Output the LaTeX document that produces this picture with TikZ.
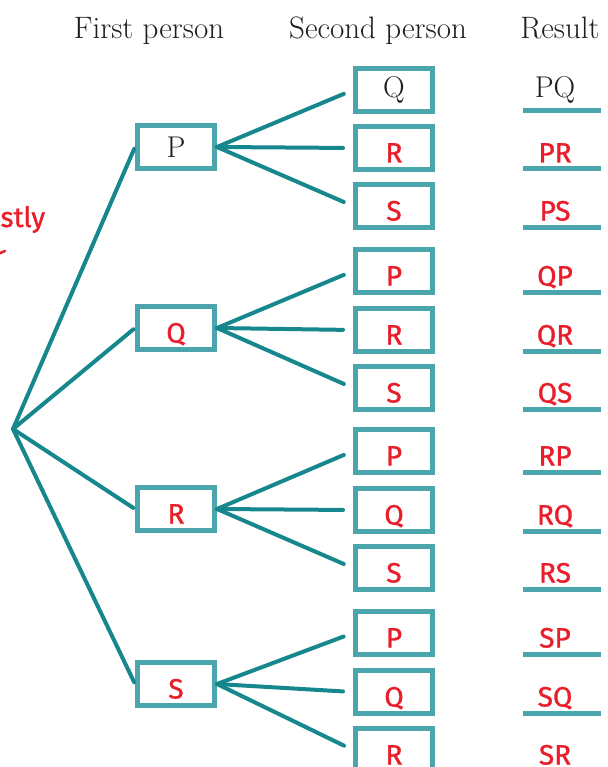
\documentclass[tikz,border=0pt]{standalone}
\usepackage{fontspec}
\newfontfamily\handfont[FakeBold=1.2]{Fira Sans}
\definecolor{frameteal}{HTML}{4AA5AD}
\definecolor{branchteal}{HTML}{15878D}
\definecolor{penred}{HTML}{E81E2A}
\definecolor{printgray}{HTML}{1E1E1E}

\begin{document}
\begin{tikzpicture}[x=1pt,y=-1pt]
  \tikzstyle{choice}=[draw=frameteal,line width=5pt,minimum width=77pt,minimum height=43pt,inner sep=0pt]
  \tikzstyle{branch}=[draw=branchteal,line width=4pt,line cap=round]
  \tikzstyle{print}=[text=printgray,font=\fontsize{30}{30}\selectfont]
  \tikzstyle{head}=[text=printgray,font=\fontsize{31}{31}\selectfont,anchor=base]
  \tikzstyle{hand}=[text=penred,font=\handfont\fontsize{28}{28}\selectfont,text height=29pt,text depth=0pt]
  \tikzstyle{rule}=[draw=frameteal,line width=5pt]

  \clip (0,0) rectangle (607,767);

  \node[head] (head-first) at (149,39) {First person};
  \node[head] (head-second) at (378,39) {Second person};
  \node[head] (head-result) at (560,39) {Result};

  \node[hand,anchor=base west] (note) at (-3,227) {stly};
  \draw[penred,line width=2.5pt,line cap=round] (-2,254) -- (5,251);

  \coordinate (root) at (13,429);
  \foreach \name/\y/\ink in {P/147/print, Q/328/hand, R/509/hand, S/684/hand} {
    \node[choice,\ink] (F-\name) at (176,\y) {\name};
    \draw[branch,shorten >=2pt] (root) -- (F-\name.west);
  }

  \foreach \first/\second/\y/\ink in {P/Q/90/print, P/R/148/hand, P/S/206/hand,
      Q/P/271/hand, Q/R/330/hand, Q/S/388/hand, R/P/451/hand, R/Q/510/hand, R/S/568/hand,
      S/P/633/hand, S/Q/692/hand, S/R/750/hand} {
    \node[choice,\ink] (S-\first\second) at (394,\y) {\second};
    \draw[branch,shorten >=10pt] (F-\first.east) -- (S-\first\second.west);
    \node[\ink] (R-\first\second) at (555,\y) {\first\second};
    \draw[rule] (523,\y+21) -- (601,\y+21);
  }
\end{tikzpicture}
\end{document}
